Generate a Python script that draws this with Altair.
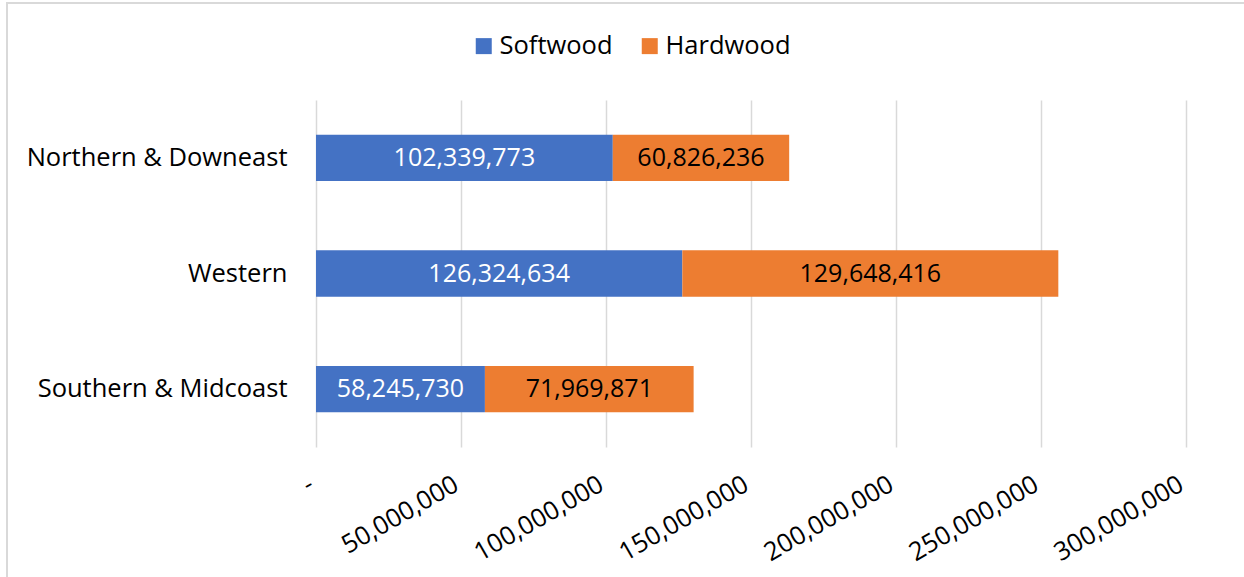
import altair as alt
import pandas as pd

regions = ["Northern & Downeast", "Western", "Southern & Midcoast"]
softwood = [102339773, 126324634, 58245730]
hardwood = [60826236, 129648416, 71969871]
types = ["Softwood", "Hardwood"]
colors = ["#4472C4", "#ED7D31"]
ticks = [0, 50000000, 100000000, 150000000, 200000000, 250000000, 300000000]

rows = []
for r, s, h in zip(regions, softwood, hardwood):
    rows.append({"region": r, "type": "Softwood", "order": 0, "value": s})
    rows.append({"region": r, "type": "Hardwood", "order": 1, "value": h})
df = pd.DataFrame(rows)

FONT = "Open Sans"

y_enc = alt.Y(
    "region:N",
    sort=regions,
    scale=alt.Scale(paddingInner=0.6, paddingOuter=0.3),
    axis=alt.Axis(
        title=None, ticks=False, domain=False, labelFontSize=25.5, labelFont=FONT,
        labelColor="#000000", labelPadding=29, labelLimit=400,
    ),
)

bars = alt.Chart(df).mark_bar().encode(
    x=alt.X(
        "value:Q",
        stack="zero",
        scale=alt.Scale(domain=[0, 300000000], nice=False),
        axis=alt.Axis(
            title=None, values=ticks, grid=True, gridColor="#D9D9D9", gridWidth=1.5,
            domain=False, ticks=False, labelAngle=-30, labelAlign="right",
            labelBaseline="middle", labelPadding=35, labelOffset=-5,
            labelFontSize=25.5, labelFont=FONT,
            labelColor="#000000", labelOverlap=False, labelFlush=False, labelBound=False,
            labelExpr="datum.value == 0 ? '-' : format(datum.value, ',')",
        ),
    ),
    y=y_enc,
    color=alt.Color(
        "type:N",
        scale=alt.Scale(domain=types, range=colors),
        legend=alt.Legend(
            title=None, orient="none", direction="horizontal", legendX=155, legendY=-67,
            symbolType="square", symbolSize=256, symbolStrokeWidth=0,
            labelFontSize=25.5, labelFont=FONT, labelColor="#000000",
            labelOffset=3, columnPadding=24,
        ),
    ),
    order=alt.Order("order:Q"),
)

labels = alt.Chart(df).transform_stack(
    stack="value", groupby=["region"], as_=["v0", "v1"], sort=[alt.SortField("order")]
).transform_calculate(
    mid="(datum.v0 + datum.v1) / 2",
    label="format(datum.value, ',')",
).mark_text(fontSize=25, font=FONT, baseline="middle", align="center").encode(
    x=alt.X("mid:Q"),
    y=alt.Y("region:N", sort=regions),
    text="label:N",
    color=alt.condition(alt.datum.type == "Softwood", alt.value("#FFFFFF"), alt.value("#000000")),
)

border = alt.Chart(alt.Data(values=[{"a": 1}])).mark_rect(
    fill="transparent", stroke="#D9D9D9", strokeWidth=2
).encode(
    x=alt.value(-309), x2=alt.value(940), y=alt.value(-97), y2=alt.value(490)
)

chart = alt.layer(border, bars, labels).properties(
    width=870, height=347,
    autosize=alt.AutoSizeParams(type="none"),
    padding={"left": 316, "top": 100, "right": 58, "bottom": 130},
    background="#FFFFFF",
).configure_view(stroke=None)

chart.save("out.html", embed_options={"renderer": "svg", "actions": False})
